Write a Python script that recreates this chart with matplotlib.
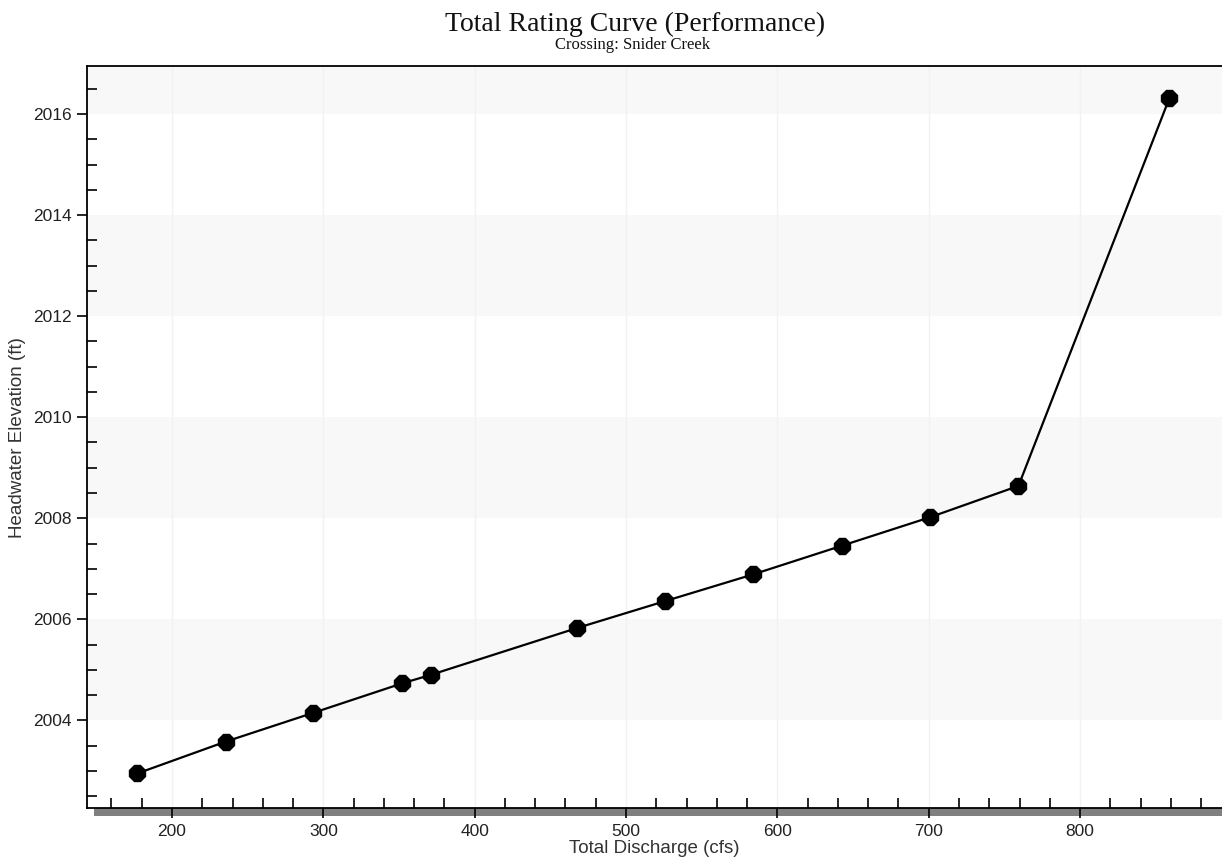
import matplotlib
matplotlib.use("Agg")
from matplotlib import pyplot as plt
from matplotlib.patches import Rectangle
from matplotlib.ticker import MultipleLocator
import numpy as np

# Rating curve for the crossing: discharge (cfs) vs headwater elevation (ft)
discharge = [177.1, 235.5, 293.4, 351.8, 370.9, 467.9, 525.8, 584.1, 643.0, 700.9, 759.3, 859.0]
headwater = [2002.95, 2003.58, 2004.15, 2004.73, 2004.90, 2005.83, 2006.36, 2006.89, 2007.46, 2008.02, 2008.64, 2016.31]

title = "Total Rating Curve (Performance)"
subtitle = "Crossing: Snider Creek"
x_label = "Total Discharge (cfs)"
y_label = "Headwater Elevation (ft)"

# shaded horizontal bands (every other 2 ft interval)
band_starts = [2004, 2008, 2012, 2016]
band_height = 2

fig = plt.figure(figsize=(12.22, 8.61), dpi=100)
ax = fig.add_axes([86.5 / 1222, 1 - 808.3 / 861, 1 - 86.5 / 1222, (808.3 - 66) / 861])

ax.set_xlim(143.5, 893.8)
ax.set_ylim(2002.26, 2016.95)

for b in band_starts:
    ax.axhspan(b, b + band_height, color="#f8f8f8", lw=0, zorder=0)

ax.xaxis.set_major_locator(MultipleLocator(100))
ax.xaxis.set_minor_locator(MultipleLocator(20))
ax.yaxis.set_major_locator(MultipleLocator(2))
ax.yaxis.set_minor_locator(MultipleLocator(0.5))
ax.grid(axis="x", which="major", color="#f2f2f2", lw=1, zorder=0.5)

ax.plot(discharge, headwater, color="black", lw=1.6, marker="8", markersize=12,
        markerfacecolor="black", markeredgecolor="black", zorder=3)

ax.spines["right"].set_visible(False)
for s in ["left", "top", "bottom"]:
    ax.spines[s].set_linewidth(1.3)

ax.tick_params(axis="both", which="major", direction="out", length=7, width=1.2,
               labelsize=12.5, labelcolor="#222222")
ax.tick_params(axis="both", which="minor", direction="in", length=7, width=1.2)
ax.tick_params(axis="x", which="major", pad=4)

for lbl in ax.get_xticklabels() + ax.get_yticklabels():
    lbl.set_fontfamily("Liberation Sans")

# grey shadow under the x axis
ax.add_patch(Rectangle((7.5 / 1135.5, -7.7 / 742.3), 1.0, 7.7 / 742.3, transform=ax.transAxes,
                       facecolor="#808080", edgecolor="none", clip_on=False, zorder=0.4))

ax.set_xlabel(x_label, fontsize=13.5, family="Liberation Sans", color="#333333", labelpad=1)
ax.set_ylabel(y_label, fontsize=13.5, family="Liberation Sans", color="#333333", labelpad=5)

fig.text(635 / 1222, 1 - 24 / 861, title, ha="center", va="center",
         fontsize=20, family="Liberation Serif", color="#111111")
fig.text(633 / 1222, 1 - 45 / 861, subtitle, ha="center", va="center",
         fontsize=12, family="Liberation Serif", color="#111111")

fig.savefig("out.png", dpi=100)
